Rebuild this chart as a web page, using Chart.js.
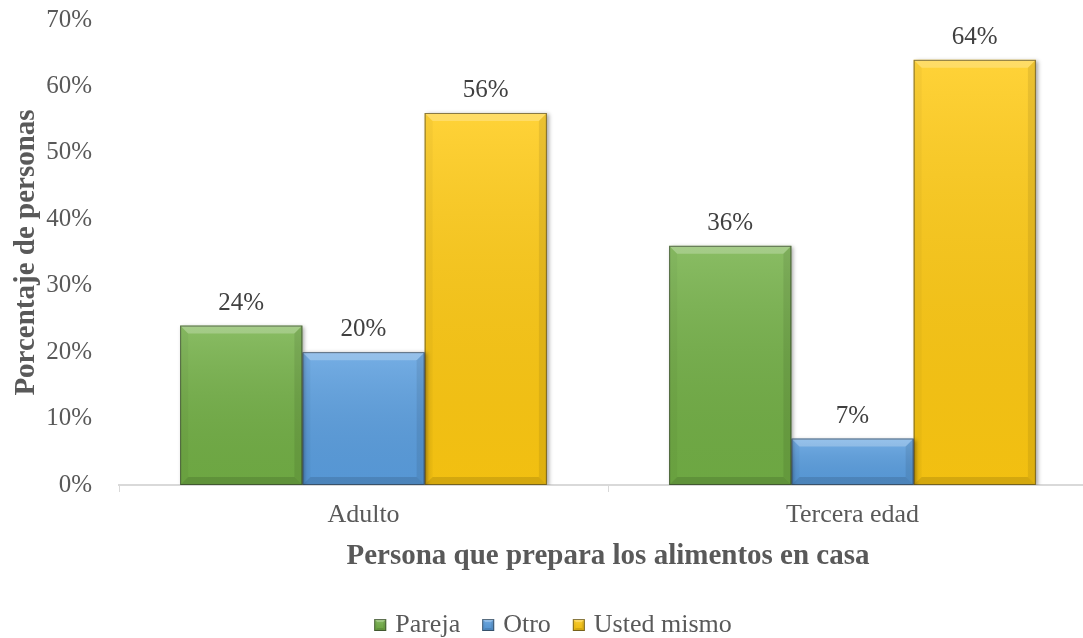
<!DOCTYPE html>
<html>
<head>
<meta charset="utf-8">
<script src="https://cdn.jsdelivr.net/npm/chart.js@4/dist/chart.umd.min.js"></script>
<style>
  html, body { margin: 0; padding: 0; background: #fff; overflow: hidden; }
  #wrap { width: 1106px; height: 638px; position: relative; }
</style>
</head>
<body>
<div id="wrap"><canvas id="grafico"></canvas></div>
<script>
// Datos: quién prepara los alimentos en casa, por grupo de edad
const grupos = ['Adulto', 'Tercera edad'];
const pareja = [24, 36];
const otro = [20, 7];
const ustedMismo = [56, 64];
const ticksY = [0, 10, 20, 30, 40, 50, 60, 70];

const serif = "'Liberation Serif', 'Times New Roman', serif";
const gris = '#595959';

// Relleno en bisel (bordes claros arriba, oscuros abajo)
function dibujarBisel(ctx, l, t, w, h, e) {
  const r = l + w, b = t + h;
  const poly = (pts, color) => {
    ctx.beginPath();
    ctx.moveTo(pts[0][0], pts[0][1]);
    for (let k = 1; k < pts.length; k++) ctx.lineTo(pts[k][0], pts[k][1]);
    ctx.closePath();
    ctx.fillStyle = color;
    ctx.fill();
  };
  const g = ctx.createLinearGradient(0, t, 0, b);
  g.addColorStop(0, 'rgba(255,255,255,0.16)');
  g.addColorStop(1, 'rgba(0,0,0,0.05)');
  ctx.fillStyle = g;
  ctx.fillRect(l, t, w, h);
  poly([[l, t], [r, t], [r - e, t + e], [l + e, t + e]], 'rgba(255,255,255,0.24)');
  poly([[l, t], [l + e, t + e], [l + e, b - e], [l, b]], 'rgba(0,0,0,0.03)');
  poly([[r, t], [r, b], [r - e, b - e], [r - e, t + e]], 'rgba(0,0,0,0.08)');
  poly([[l, b], [l + e, b - e], [r - e, b - e], [r, b]], 'rgba(0,0,0,0.12)');
  ctx.strokeStyle = 'rgba(40,40,40,0.55)';
  ctx.lineWidth = 1;
  ctx.strokeRect(l + 0.5, t + 0.5, w - 1, h - 1);
}

const bisel = {
  id: 'bisel',
  beforeDatasetsDraw(chart) {
    const ctx = chart.ctx;
    ctx.save();
    ctx.shadowColor = 'rgba(0,0,0,0.35)';
    ctx.shadowBlur = 4;
    ctx.shadowOffsetX = 2;
    ctx.shadowOffsetY = 1;
  },
  afterDatasetsDraw(chart) {
    const ctx = chart.ctx;
    ctx.restore();
    chart.data.datasets.forEach((ds, i) => {
      chart.getDatasetMeta(i).data.forEach(bar => {
        const p = bar.getProps(['x', 'y', 'base', 'width'], true);
        const h = p.base - p.y;
        ctx.save();
        dibujarBisel(ctx, p.x - p.width / 2, p.y, p.width, h, Math.min(8, h / 2, p.width / 2));
        ctx.restore();
      });
    });
  }
};

// Etiquetas de valor encima de las barras
const etiquetas = {
  id: 'etiquetas',
  afterDatasetsDraw(chart) {
    const ctx = chart.ctx;
    ctx.save();
    ctx.font = '25px ' + serif;
    ctx.fillStyle = '#404040';
    ctx.textAlign = 'center';
    ctx.textBaseline = 'alphabetic';
    chart.data.datasets.forEach((ds, i) => {
      chart.getDatasetMeta(i).data.forEach((bar, j) => {
        ctx.fillText(ds.data[j] + '%', bar.x, bar.y - 16);
      });
    });
    ctx.restore();
  }
};

// Leyenda inferior con cuadros pequeños pegados al texto
const leyenda = {
  id: 'leyenda',
  afterDraw(chart) {
    const ctx = chart.ctx;
    const caja = 12, hueco = 9, sep = 22;
    ctx.save();
    ctx.font = '26px ' + serif;
    const items = chart.data.datasets.map(ds => ({ ds, w: ctx.measureText(ds.label).width }));
    const total = items.reduce((s, it) => s + caja + hueco + it.w, 0) + sep * (items.length - 1);
    let x = chart.width / 2 - total / 2;
    const y = chart.height - 14;
    items.forEach(it => {
      ctx.save();
      ctx.fillStyle = it.ds.backgroundColor;
      ctx.fillRect(x, y - caja / 2 + 1, caja, caja);
      dibujarBisel(ctx, x, y - caja / 2 + 1, caja, caja, 3);
      ctx.restore();
      x += caja + hueco;
      ctx.fillStyle = gris;
      ctx.textAlign = 'left';
      ctx.textBaseline = 'middle';
      ctx.fillText(it.ds.label, x, y + 1);
      x += it.w + sep;
    });
    ctx.restore();
  }
};

const serie = (label, data, color) => ({
  label, data,
  backgroundColor: color,
  borderWidth: 0,
  categoryPercentage: 0.75,
  barPercentage: 1
});

new Chart(document.getElementById('grafico'), {
  type: 'bar',
  data: {
    labels: grupos,
    datasets: [
      serie('Pareja', pareja, '#73B046'),
      serie('Otro', otro, '#5B9FE0'),
      serie('Usted mismo', ustedMismo, '#FFCA12')
    ]
  },
  options: {
    responsive: true,
    maintainAspectRatio: false,
    animation: false,
    layout: { padding: { top: 5, right: 9, bottom: 60, left: 9 } },
    plugins: {
      tooltip: { enabled: false },
      legend: { display: false }
    },
    scales: {
      x: {
        grid: { display: true, drawOnChartArea: false, color: '#d9d9d9', tickLength: 7, offset: true },
        border: { color: '#d9d9d9', width: 2 },
        ticks: { font: { family: serif, size: 26 }, color: gris, padding: 8 },
        title: {
          display: true,
          text: 'Persona que prepara los alimentos en casa',
          font: { family: serif, size: 29, weight: 'bold' },
          color: gris,
          padding: { top: 0, bottom: 4 }
        }
      },
      y: {
        min: 0,
        max: 70,
        afterBuildTicks(scale) { scale.ticks = ticksY.map(v => ({ value: v })); },
        afterFit(scale) {
          scale.width = 110;
          scale.paddingTop = 20;
          scale.paddingBottom = 15;
        },
        grid: { display: false, drawTicks: false },
        border: { display: false },
        ticks: { font: { family: serif, size: 25 }, color: gris, padding: 27, callback: v => v + '%' },
        title: {
          display: true,
          text: 'Porcentaje de personas',
          font: { family: serif, size: 29, weight: 'bold' },
          color: gris,
          padding: { top: 0, bottom: 0 }
        }
      }
    }
  },
  plugins: [bisel, etiquetas, leyenda]
});
</script>
</body>
</html>
